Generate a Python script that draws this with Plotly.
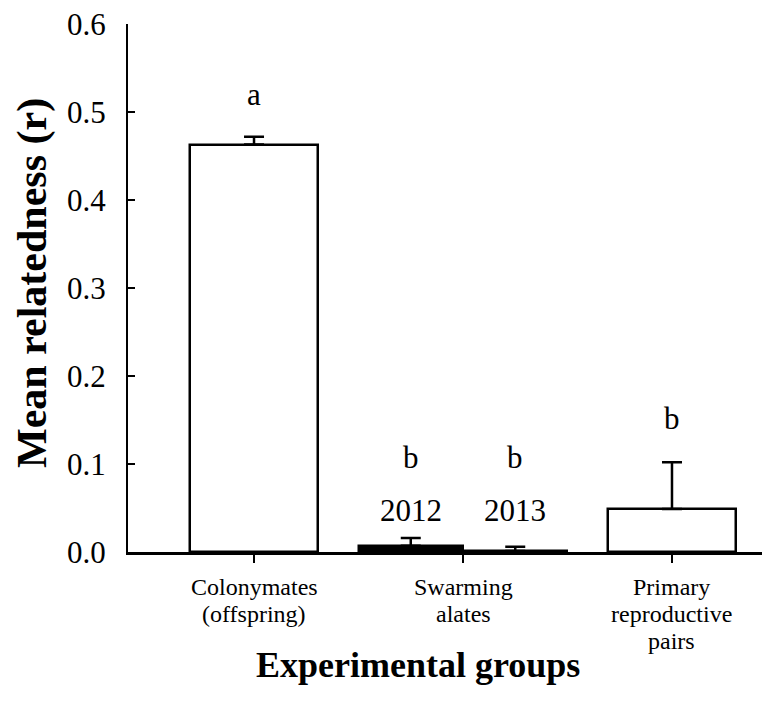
import plotly.graph_objects as go

# ---- data ----
group_labels = [["Colonymates", "(offspring)"], ["Swarming", "alates"], ["Primary", "reproductive", "pairs"]]
bar_names = ["Colonymates (offspring)", "Swarming alates 2012", "Swarming alates 2013", "Primary reproductive pairs"]
mean_r = [0.463, 0.007, 0.001, 0.049]
se_r = [0.009, 0.009, 0.005, 0.053]
letters = ["a", "b", "b", "b"]
years = ["", "2012", "2013", ""]
y_ticks = [0.0, 0.1, 0.2, 0.3, 0.4, 0.5, 0.6]
x_title = "Experimental groups"
y_title = "Mean relatedness (r)"

# ---- layout / styling (positions, not data) ----
group_pos = [0, 1, 2]
bar_pos = [0, 0.75, 1.25, 2]
bar_width = [0.61, 0.5, 0.5, 0.61]
bar_fill = ["white", "black", "white", "white"]
letter_y = [0.52, 0.107, 0.107, 0.152]
year_y = 0.047

FONT = "Liberation Serif, Times New Roman, serif"
# page body has an 8px margin, so the figure is laid out 8px up/left of page pixels
OFF = 8
W, H = 770 - OFF, 712 - OFF
L, R, T = 128 - OFF, 0, 24 - OFF
PLOT_BOTTOM = 552 - OFF
B = H - PLOT_BOTTOM
PW, PH = W - L - R, H - T - B

fig = go.Figure()
fig.add_trace(go.Bar(
    x=bar_pos, y=mean_r, width=bar_width,
    marker=dict(color=bar_fill, line=dict(color="black", width=2.5)),
    error_y=dict(type="data", symmetric=False, array=se_r, arrayminus=[0] * len(se_r),
                 color="black", thickness=2.5, width=10),
    hovertext=bar_names, showlegend=False,
))

for xp, lt, ly in zip(bar_pos, letters, letter_y):
    fig.add_annotation(x=xp, y=ly, text=lt, showarrow=False,
                       font=dict(family=FONT, size=31, color="black"))
for xp, yr in zip(bar_pos, years):
    if yr:
        fig.add_annotation(x=xp, y=year_y, text=yr, showarrow=False,
                           font=dict(family=FONT, size=31, color="black"))

# category labels (tight multi-line, as in the original figure)
for xp, lines in zip(group_pos, group_labels):
    for i, line in enumerate(lines):
        fig.add_annotation(x=xp, xref="x", y=0, yref="paper", yanchor="middle",
                           yshift=-(35 + 27 * i), text=line, showarrow=False,
                           font=dict(family=FONT, size=24, color="black"))

# axis titles
fig.add_annotation(x=(418 - OFF - L) / PW, xref="paper", y=0, yref="paper",
                   yanchor="middle", yshift=-(665 - 552), text="<b>" + x_title + "</b>",
                   showarrow=False, font=dict(family=FONT, size=36, color="black"))
fig.add_annotation(x=0, xref="paper", xanchor="center", xshift=-(128 - 32),
                   y=(552 - 283) / PH, yref="paper", yanchor="middle",
                   text="<b>" + y_title + "</b>", textangle=-90,
                   showarrow=False, font=dict(family=FONT, size=42, color="black"))

fig.update_layout(
    width=W, height=H,
    margin=dict(l=L, r=R, t=T, b=B),
    paper_bgcolor="white", plot_bgcolor="white",
    font=dict(family=FONT, color="black"),
    bargap=0,
)
fig.update_xaxes(
    range=[-0.603, 2.469], tickvals=group_pos, ticktext=["", "", ""],
    showline=True, linecolor="black", linewidth=2.5,
    ticks="outside", ticklen=8, tickwidth=2, tickcolor="black",
    showgrid=False, zeroline=False, automargin=False,
)
fig.update_yaxes(
    range=[0, 0.6], tickvals=y_ticks, tickformat=".1f",
    showline=True, linecolor="black", linewidth=2,
    ticks="inside", ticklen=7, tickwidth=2, tickcolor="black",
    tickfont=dict(family=FONT, size=31, color="black"),
    ticklabelstandoff=14, ticklabeloverflow="allow",
    showgrid=False, zeroline=False, automargin=False,
)

fig.write_html("out.html")
